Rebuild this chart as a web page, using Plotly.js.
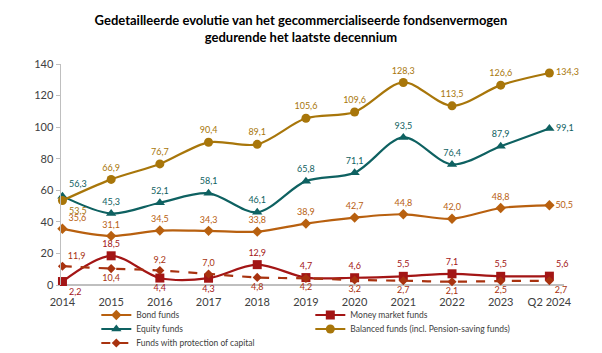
<!DOCTYPE html>
<html>
<head>
<meta charset="utf-8">
<script src="https://cdn.plot.ly/plotly-3.0.1.min.js"></script>
<style>html,body{margin:0;padding:0;background:#fff;}#chart{width:602px;height:353px;}</style>
</head>
<body>
<div id="chart"></div>
<script>
const years = ["2014","2015","2016","2017","2018","2019","2020","2021","2022","2023","Q2 2024"];
const bondFunds = [35.6, 31.1, 34.5, 34.3, 33.8, 38.9, 42.7, 44.8, 42.0, 48.8, 50.5];
const moneyMarketFunds = [2.2, 18.5, 4.4, 4.3, 12.9, 4.7, 4.6, 5.5, 7.1, 5.5, 5.6];
const equityFunds = [56.3, 45.3, 52.1, 58.1, 46.1, 65.8, 71.1, 93.5, 76.4, 87.9, 99.1];
const balancedFunds = [53.5, 66.9, 76.7, 90.4, 89.1, 105.6, 109.6, 128.3, 113.5, 126.6, 134.3];
const protectionFunds = [11.9, 10.4, 9.2, 7.0, 4.8, 4.2, 3.2, 2.7, 2.1, 2.5, 2.7];
const seriesNames = ["Bond funds", "Money market funds", "Equity funds", "Balanced funds (incl. Pension-saving funds)", "Funds with protection of capital"];

const fmt = v => v.toFixed(1).replace('.', ',');
const idx = years.map((_, i) => i);

function mk(name, vals, color, symbol, msize, dash, positions, legendId) {
  return {
    type: 'scatter', mode: 'lines+markers+text', name: name, legend: legendId,
    x: idx, y: vals,
    text: vals.map(fmt), textposition: positions,
    textfont: {family: 'Lato, "Open Sans", sans-serif', size: 9, color: color},
    line: {color: color, width: 2.2, shape: 'spline', smoothing: 0.9, dash: dash},
    marker: {color: color, symbol: symbol, size: msize},
    cliponaxis: false
  };
}
const T = 'top center', B = 'bottom center', R = 'middle right';
const data = [
  mk(seriesNames[0], bondFunds, '#B8600F', 'diamond', 8, 'solid',
     ['top right',T,T,T,T,T,T,T,T,T,R], 'legend'),
  mk(seriesNames[1], moneyMarketFunds, '#A31515', 'square', 9, 'solid',
     ['bottom right',T,B,B,T,T,T,T,T,T,'top right'], 'legend'),
  mk(seriesNames[2], equityFunds, '#0E6161', 'triangle-up', 9, 'solid',
     ['top right',T,T,T,T,T,T,T,T,T,R], 'legend2'),
  mk(seriesNames[3], balancedFunds, '#A8760A', 'circle', 9, 'solid',
     ['bottom right',T,T,T,T,T,T,T,T,T,R], 'legend2'),
  mk(seriesNames[4], protectionFunds, '#A8320F', 'diamond', 7, 'dash',
     ['top right',B,T,T,B,B,B,B,B,B,'bottom right'], 'legend3')
];

function legendRow(yPix) {
  return {
    orientation: 'h', xref: 'container', yref: 'container',
    x: 0.16, xanchor: 'left', y: 1 - yPix / 353, yanchor: 'middle',
    entrywidth: 169, entrywidthmode: 'pixels', itemwidth: 30,
    font: {family: 'Lato, "Open Sans", sans-serif', size: 8.5, color: '#404040'},
    bgcolor: 'rgba(0,0,0,0)'
  };
}

const layout = {
  width: 602, height: 353,
  margin: {l: 61, r: 38, t: 64, b: 68, autoexpand: false},
  paper_bgcolor: '#fff', plot_bgcolor: '#fff',
  font: {family: 'Lato, "Open Sans", sans-serif', color: '#404040', size: 11},
  title: {
    text: '<b>Gedetailleerde evolutie van het gecommercialiseerde fondsenvermogen<br>gedurende het laatste decennium</b>',
    x: 0.5, xanchor: 'center', xref: 'container', yref: 'container', y: 0.93, yanchor: 'top',
    font: {family: 'Lato, "Open Sans", sans-serif', size: 13, color: '#000'}
  },
  xaxis: {
    type: 'linear', range: [-0.03, 10.3],
    tickmode: 'array', tickvals: idx, ticktext: years,
    showgrid: false, zeroline: false, showline: false,
    ticks: '', ticklabelstandoff: 9, tickfont: {size: 11, color: '#404040'}
  },
  yaxis: {
    range: [0, 140], dtick: 20, showgrid: false, zeroline: true,
    zerolinecolor: '#BFBFBF', zerolinewidth: 1.5,
    showline: true, linecolor: '#BFBFBF', linewidth: 1.5,
    ticks: 'outside', ticklen: 4, tickcolor: '#BFBFBF',
    tickfont: {size: 11, color: '#404040'}
  },
  showlegend: true,
  legend: legendRow(315),
  legend2: legendRow(329),
  legend3: legendRow(343)
};
Plotly.newPlot('chart', data, layout, {displayModeBar: false, staticPlot: true});
</script>
</body>
</html>
